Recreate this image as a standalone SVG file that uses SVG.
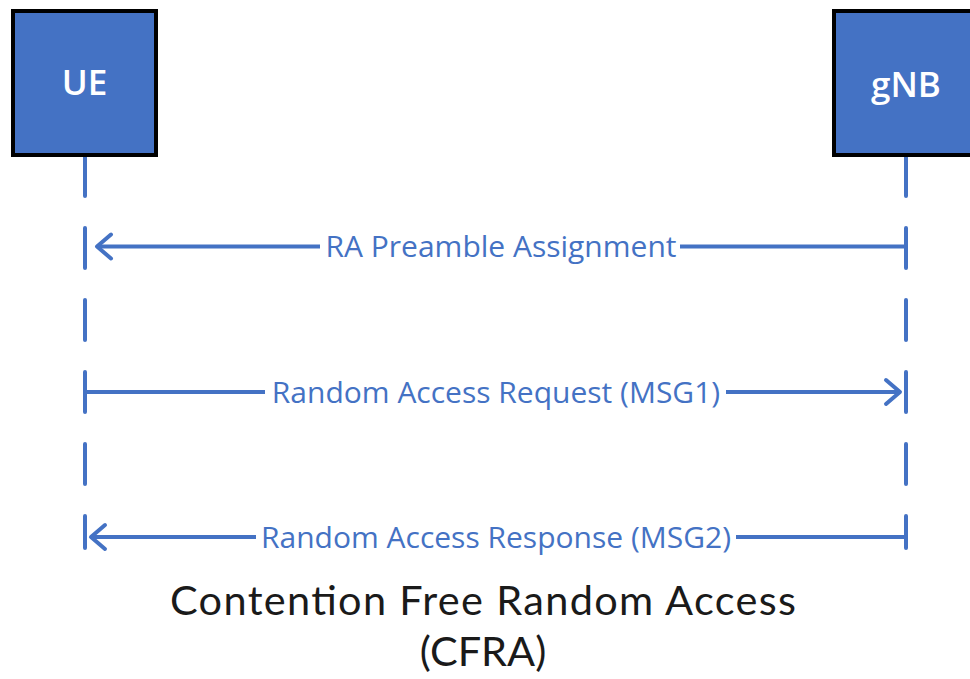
<svg xmlns="http://www.w3.org/2000/svg" width="970" height="679" viewBox="0 0 970 679">
<style>
.box{fill:#4472C4;stroke:#000;stroke-width:4}
.boxtxt{font-family:"Open Sans","Liberation Sans",sans-serif;font-size:35px;font-weight:600;fill:#fff;text-anchor:middle}
.life{stroke:#4472C4;stroke-width:4;stroke-linecap:round;stroke-dasharray:40 32;fill:none}
.msg{stroke:#4472C4;stroke-width:4;fill:none}
.lbl{font-family:"Open Sans","Liberation Sans",sans-serif;font-size:30px;fill:#4472C4;text-anchor:middle}
.bg{fill:#fff}
.title{font-family:Lato,"Open Sans",sans-serif;font-size:41.5px;fill:#1a1a1a;text-anchor:middle}
</style>
<defs>
<marker id="arr" markerUnits="userSpaceOnUse" orient="auto" refX="0" refY="0" overflow="visible" markerWidth="20" markerHeight="30">
<path d="M-14,-12 L0,0 L-14,12" fill="none" stroke="#4472C4" stroke-width="4" stroke-linecap="round" stroke-linejoin="round"/>
</marker>
</defs>
<g id="lifelines">
<line class="life" x1="85" y1="156" x2="85" y2="548"/>
<line class="life" x1="906" y1="156" x2="906" y2="548"/>
</g>
<g id="UE">
<rect class="box" x="13" y="11" width="143" height="144"/>
<text class="boxtxt" x="84.5" y="95">UE</text>
</g>
<g id="gNB">
<rect class="box" x="834" y="11" width="143" height="144"/>
<text class="boxtxt" x="906" y="97">gNB</text>
</g>
<g id="connectors">
<line class="msg" x1="906" y1="246.5" x2="97" y2="246.5" marker-end="url(#arr)"/>
<rect class="bg" x="320" y="232" width="360" height="30"/>
<text class="lbl" x="501" y="257">RA Preamble Assignment</text>
<line class="msg" x1="85" y1="392" x2="900" y2="392" marker-end="url(#arr)"/>
<rect class="bg" x="265" y="377" width="461" height="30"/>
<text class="lbl" x="496" y="403">Random Access Request (MSG1)</text>
<line class="msg" x1="906" y1="537" x2="91" y2="537" marker-end="url(#arr)"/>
<rect class="bg" x="256" y="522" width="480" height="30"/>
<text class="lbl" x="496" y="548">Random Access Response (MSG2)</text>
</g>
<g id="title">
<text class="title" x="483" y="615" textLength="626">Contention Free Random Access</text>
<text class="title" x="483" y="666">(CFRA)</text>
</g>
</svg>
